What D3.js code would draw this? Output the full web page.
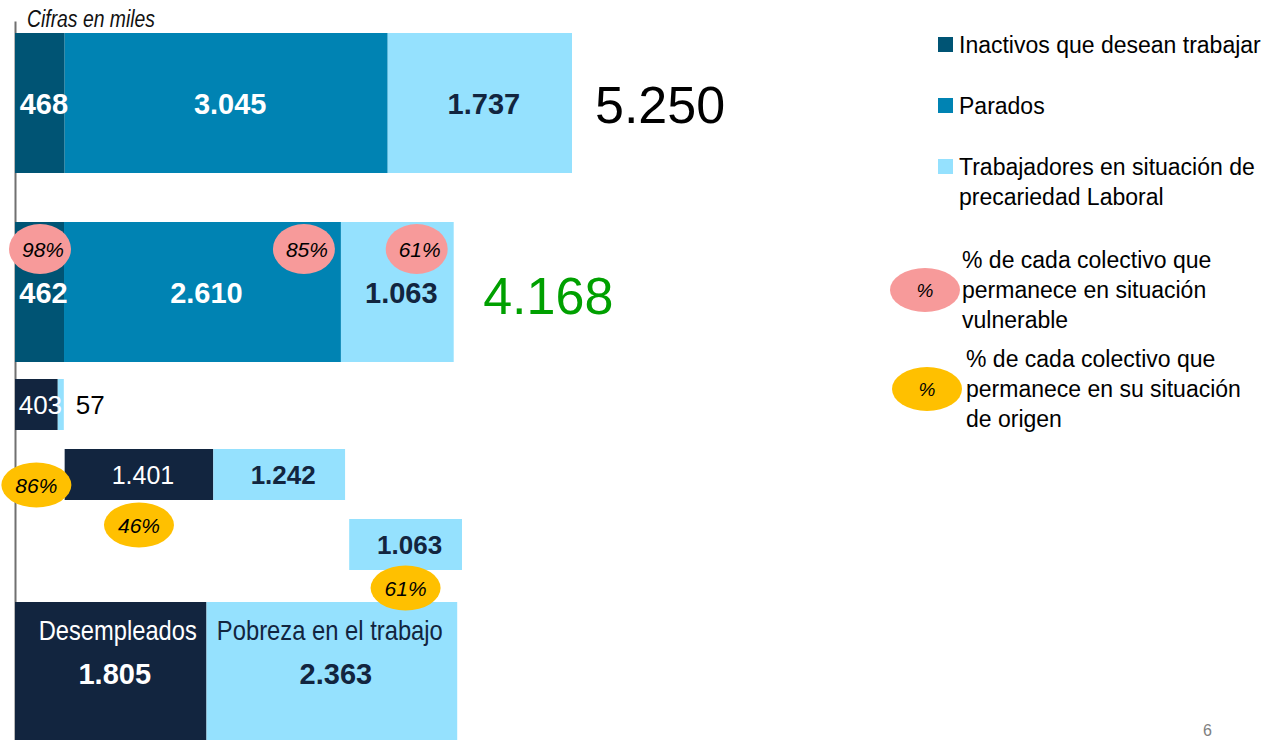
<!DOCTYPE html>
<html>
<head>
<meta charset="utf-8">
<script src="https://cdn.jsdelivr.net/npm/d3@7"></script>
<style>
  body { margin: 0; background: #fff; }
  svg { display: block; font-family: "Liberation Sans", Arial, sans-serif; }
</style>
</head>
<body>
<svg id="drawing_region"></svg>
<script>
// values in thousands
const row1Values = [468, 3045, 1737];
const row2Values = [462, 2610, 1063];
const row3Values = [403, 57];
const row4Values = [1401, 1242];
const row5Values = [1063];
const row6Values = [1805, 2363];
const rowStarts = [0, 0, 0, 468, 3150, 0];
const rowTotals = [5250, 4168];
const row6Labels = ["Desempleados", "Pobreza en el trabajo"];
const vulnerablePct = [98, 85, 61];
const originPct = [86, 46, 61];
const legendLabels = ["Inactivos que desean trabajar", "Parados", "Trabajadores en situación de|precariedad Laboral"];
const pctLegend = ["% de cada colectivo que|permanece en situación|vulnerable", "% de cada colectivo que|permanece en su situación|de origen"];

const colors = {
    inactivo: '#005474',
    parado: '#0083b3',
    precario: '#95e1fe',
    desempleado: '#12253f'
};
const navy = '#12253f';

const rows = [
    { values: row1Values, keys: ['inactivo', 'parado', 'precario'] },
    { values: row2Values, keys: ['inactivo', 'parado', 'precario'] },
    { values: row3Values, keys: ['desempleado', 'precario'] },
    { values: row4Values, keys: ['desempleado', 'precario'] },
    { values: row5Values, keys: ['precario'] },
    { values: row6Values, keys: ['desempleado', 'precario'] }
];
// vertical layout of each row (top, height)
const rowLayout = [[33, 140], [222, 140], [379, 51], [449, 51], [519, 51], [602, 140]];

const fmt = d3.formatLocale({ decimal: ',', thousands: '.', grouping: [3], currency: ['', '€'] }).format(',d');

const svg = d3.select('#drawing_region').attr('width', 1262).attr('height', 740);

const xscale = d3.scaleLinear().domain([0, 5250]).range([15, 572]);
const yscale = d3.scaleLinear().domain([0, 1]).range([21, 741]);

// left axis line only
const yaxis = d3.axisLeft(yscale).tickValues([]).tickSizeOuter(0);
const axisG = svg.append('g').attr('transform', 'translate(15,0)').call(yaxis);
axisG.select('.domain').attr('stroke', '#707070').attr('stroke-width', 2);

svg.append('text')
    .attr('x', 27).attr('y', 27)
    .attr('font-style', 'italic')
    .attr('font-size', 23)
    .attr('textLength', 128)
    .attr('lengthAdjust', 'spacingAndGlyphs')
    .attr('fill', '#111')
    .text('Cifras en miles');

// build segments
const segs = [];
rows.forEach((r, i) => {
    let acc = rowStarts[i];
    r.values.forEach((v, j) => {
        segs.push({ row: i, idx: j, key: r.keys[j], x0: acc, x1: acc + v, value: v });
        acc += v;
    });
});

const chart = svg.append('g');
chart.selectAll('rect.seg')
    .data(segs)
    .enter()
    .append('rect')
    .attr('class', 'seg')
    .attr('x', d => xscale(d.x0))
    .attr('width', d => xscale(d.x1) - xscale(d.x0))
    .attr('y', d => rowLayout[d.row][0])
    .attr('height', d => rowLayout[d.row][1])
    .attr('fill', d => colors[d.key]);

// value labels
const row6LabelWidth = [158, 226];
segs.forEach(d => {
    const [top, h] = rowLayout[d.row];
    const cx = (xscale(d.x0) + xscale(d.x1)) / 2 + 4;
    const light = d.key === 'precario';
    if (d.row === 5) {
        chart.append('text')
            .attr('x', cx + (d.idx === 0 ? 3 : -6)).attr('y', top + 38)
            .attr('text-anchor', 'middle')
            .attr('font-size', 28)
            .attr('textLength', row6LabelWidth[d.idx])
            .attr('lengthAdjust', 'spacingAndGlyphs')
            .attr('fill', light ? navy : '#fff')
            .text(row6Labels[d.idx]);
        chart.append('text')
            .attr('x', cx).attr('y', top + 82)
            .attr('text-anchor', 'middle')
            .attr('font-weight', 'bold')
            .attr('font-size', 29)
            .attr('fill', light ? navy : '#fff')
            .text(fmt(d.value));
        return;
    }
    if (d.row === 2 && light) {
        chart.append('text')
            .attr('x', xscale(d.x1) + 12).attr('y', top + h / 2 + 9.5)
            .attr('font-size', 26)
            .attr('fill', '#000')
            .text(fmt(d.value));
        return;
    }
    const bold = !(d.row === 2 || (d.row === 3 && d.key === 'desempleado'));
    const size = d.row < 2 ? 29 : 26;
    chart.append('text')
        .attr('x', cx).attr('y', top + h / 2 + (d.row < 2 ? 11 : 9.5))
        .attr('text-anchor', 'middle')
        .attr('font-weight', bold ? 'bold' : 'normal')
        .attr('font-size', d.row === 3 && !bold ? 25 : size)
        .attr('fill', light ? navy : '#fff')
        .text(fmt(d.value));
});

// totals
const totalColors = ['#000', '#00a000'];
const totalDx = [23, 26];
const totalDy = [20, 22];
rowTotals.forEach((t, i) => {
    svg.append('text')
        .attr('x', xscale(rowStarts[i] + t) + totalDx[i])
        .attr('y', rowLayout[i][0] + rowLayout[i][1] / 2 + totalDy[i])
        .attr('font-size', 52)
        .attr('fill', totalColors[i])
        .text(fmt(t));
});

// pink ellipses: share still vulnerable (row 2)
const pinkSegs = segs.filter(d => d.row === 1);
const pink = svg.append('g');
pinkSegs.forEach((d, i) => {
    const cx = Math.max(xscale(d.x1) - 37, xscale(d.x0) + 25);
    const cy = rowLayout[1][0] + 27;
    pink.append('ellipse').attr('cx', cx).attr('cy', cy).attr('rx', 31).attr('ry', 25).attr('fill', '#f79a9a');
    pink.append('text').attr('x', cx + 3).attr('y', cy + 8)
        .attr('text-anchor', 'middle').attr('font-style', 'italic').attr('font-size', 21)
        .attr('fill', '#000').text(vulnerablePct[i] + '%');
});

// yellow ellipses: share staying in origin situation
const yellowSegs = [segs.find(d => d.row === 2 && d.idx === 0), segs.find(d => d.row === 3 && d.idx === 0), segs.find(d => d.row === 4 && d.idx === 0)];
const yellowDy = [55, 25, 18];
const yellow = svg.append('g');
yellowSegs.forEach((d, i) => {
    const cx = (xscale(d.x0) + xscale(d.x1)) / 2;
    const cy = rowLayout[d.row][0] + rowLayout[d.row][1] + yellowDy[i];
    yellow.append('ellipse').attr('cx', cx).attr('cy', cy).attr('rx', 35).attr('ry', 22.5).attr('fill', '#ffc000');
    yellow.append('text').attr('x', cx).attr('y', cy + 7.5)
        .attr('text-anchor', 'middle').attr('font-style', 'italic').attr('font-size', 21)
        .attr('fill', '#000').text(originPct[i] + '%');
});

// legend
const legendKeys = ['inactivo', 'parado', 'precario'];
const legendY = [37, 98, 159];
const legend = svg.append('g');
legendLabels.forEach((lab, i) => {
    legend.append('rect').attr('x', 938).attr('y', legendY[i]).attr('width', 15).attr('height', 15)
        .attr('fill', colors[legendKeys[i]]);
    lab.split('|').forEach((line, k) => {
        legend.append('text').attr('x', 959).attr('y', legendY[i] + 16 + k * 30)
            .attr('font-size', 23).attr('fill', '#000').text(line);
    });
});

const pctLegendFill = ['#f79a9a', '#ffc000'];
const pctLegendPos = [[925, 290, 962], [927, 389, 966]];
pctLegend.forEach((lab, i) => {
    const [ex, ey, tx] = pctLegendPos[i];
    legend.append('ellipse').attr('cx', ex).attr('cy', ey).attr('rx', 35).attr('ry', 22).attr('fill', pctLegendFill[i]);
    legend.append('text').attr('x', ex).attr('y', ey + 7).attr('text-anchor', 'middle')
        .attr('font-style', 'italic').attr('font-size', 19).attr('fill', '#000').text('%');
    lab.split('|').forEach((line, k) => {
        legend.append('text').attr('x', tx).attr('y', ey - 22 + k * 30)
            .attr('font-size', 23).attr('fill', '#000').text(line);
    });
});

// page number
svg.append('text').attr('x', 1203).attr('y', 736).attr('font-size', 16).attr('fill', '#808080').text('6');
</script>
</body>
</html>
